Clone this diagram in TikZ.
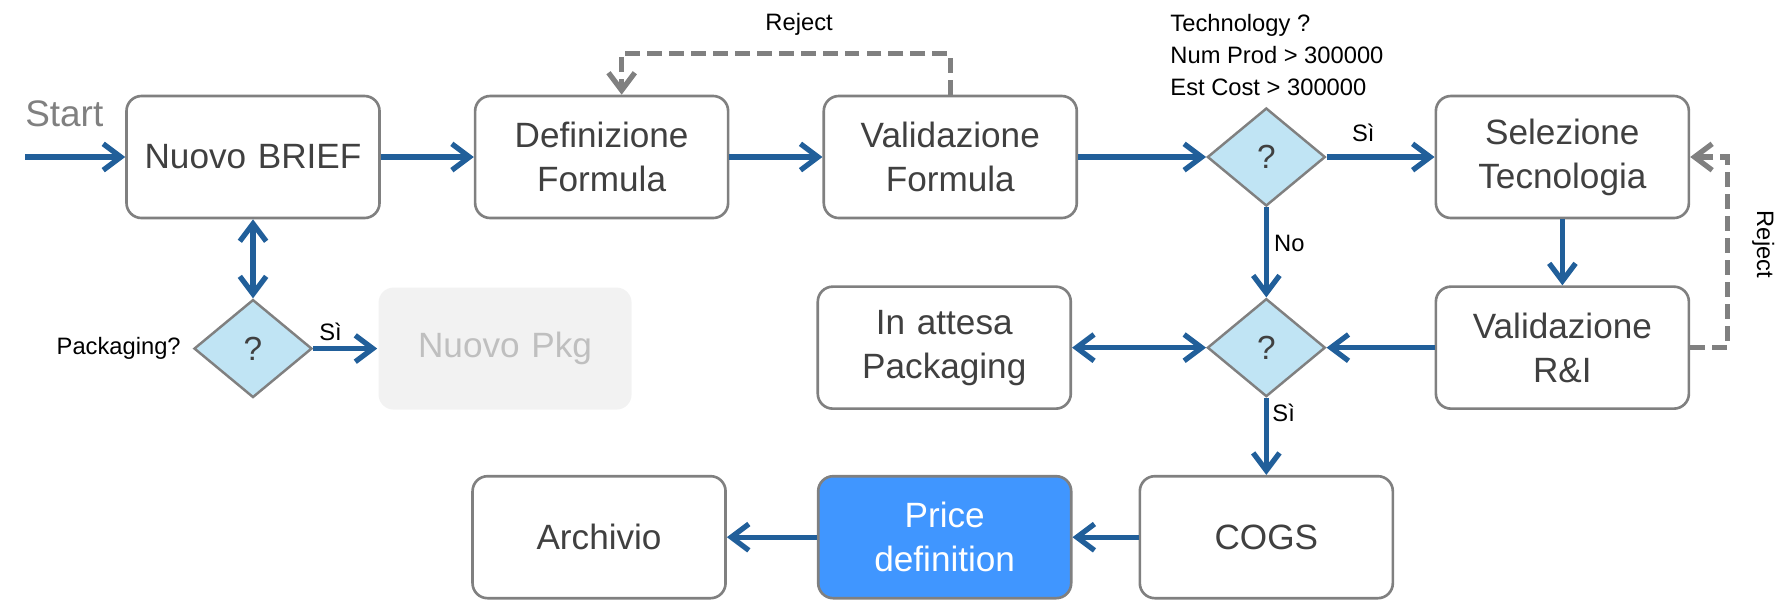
\documentclass[tikz,border=0pt]{standalone}
\usepackage{fontspec}
\setmainfont{Liberation Sans}
\usepackage{tikz}
\usetikzlibrary{shapes.geometric, arrows.meta, positioning}
\definecolor{myblue}{RGB}{33,95,154}
\definecolor{mygray}{RGB}{128,128,128}
\definecolor{mytext}{RGB}{64,64,64}
\definecolor{mylight}{RGB}{192,228,244}
\definecolor{myprice}{RGB}{64,150,255}
\definecolor{pkgfill}{RGB}{242,242,242}
\definecolor{pkgtext}{RGB}{191,191,191}
\tikzset{
  block/.style={rectangle, draw=mygray, fill=white,
    text width=4.6cm, align=center, minimum width=5.06cm, minimum height=2.44cm,
    font=\fontsize{20}{25}\selectfont, text=mytext,
    rounded corners=0.3cm, line width=1.5pt},
  pkgblock/.style={block, draw=none, fill=pkgfill, text=pkgtext},
  priceblock/.style={block, fill=myprice, text=white},
  decision/.style={diamond, draw=mygray, fill=mylight,
    minimum width=2.36cm, minimum height=1.96cm, inner sep=0pt,
    font=\fontsize{19}{23}\selectfont, text=mytext, line width=1.4pt},
  lbl/.style={font=\fontsize{13.5}{18.2}\selectfont, text=black, inner sep=1pt},
  starttxt/.style={font=\fontsize{21}{25}\selectfont, text=mygray, inner sep=0pt},
  arrow/.style={-{Straight Barb[length=10pt,width=15pt]}, line width=3pt, color=myblue},
  darrow/.style={{Straight Barb[length=10pt,width=15pt]}-{Straight Barb[length=10pt,width=15pt]},
    line width=3pt, color=myblue},
  rejarrow/.style={-{Straight Barb[length=10pt,width=15pt]}, line width=3pt, color=mygray,
    dash pattern=on 8.5pt off 4pt}
}
\begin{document}
\begin{tikzpicture}
  \useasboundingbox (0,0) rectangle (35.66,-12.08);
  \node[block] (brief) at (5.06,-3.14) {Nuovo BRIEF};
  \node[block, right=1.86cm of brief] (defform) {Definizione\\Formula};
  \node[block, right=1.86cm of defform] (valform) {Validazione\\Formula};
  \node[decision, right=2.56cm of valform] (tech) {?};
  \node[block, right=2.16cm of tech] (seltech) {Selezione\\Tecnologia};
  \node[block, below=1.32cm of seltech] (valri) {Validazione\\R\&I};
  \node[decision, left=2.16cm of valri] (pkgok) {?};
  \node[block, left=2.68cm of pkgok] (wait) {In attesa\\Packaging};
  \node[block, below=1.54cm of pkgok] (cogs) {COGS};
  \node[priceblock, left=1.32cm of cogs] (price) {Price\\definition};
  \node[block, left=1.8cm of price] (arch) {Archivio};
  \node[decision, below=1.58cm of brief] (pkgq) {?};
  \node[pkgblock, right=1.28cm of pkgq] (newpkg) {Nuovo Pkg};
  \node[starttxt, anchor=west] (start) at (0.5,-2.28) {Start};
  \node[lbl, left=0.2cm of pkgq] (pkglbl) {Packaging?};
  \node[lbl, align=left, anchor=south west] (techlbl) at ([xshift=-1.96cm, yshift=0.17cm]tech.north)
    {Technology ?\\Num Prod > 300000\\Est Cost > 300000};
  \node[lbl, rotate=-90] (rejri) at ([xshift=1.46cm, yshift=0.82cm]valri.north east) {Reject};
  \coordinate (in) at (start.west |- brief.west);
  \draw[arrow] (in) -- (brief);
  \draw[arrow] (brief) -- (defform);
  \draw[arrow] (defform) -- (valform);
  \draw[arrow] (valform) -- (tech);
  \draw[arrow] (tech) -- node[lbl, above=6pt, pos=0.34] {Sì} (seltech);
  \draw[arrow] (tech) -- node[lbl, right=2pt, pos=0.4] {No} (pkgok);
  \draw[arrow] (seltech) -- (valri);
  \draw[arrow] (valri) -- (pkgok);
  \draw[darrow] (pkgok) -- (wait);
  \draw[arrow] (pkgok) -- node[lbl, right=1pt, pos=0.2] {Sì} (cogs);
  \draw[arrow] (cogs) -- (price);
  \draw[arrow] (price) -- (arch);
  \draw[darrow] (brief) -- (pkgq);
  \draw[arrow] (pkgq) -- node[lbl, above=2pt, pos=0.27] {Sì} (newpkg);
  \draw[rejarrow] (valform.north) -- ++(0,0.82) -| node[lbl, above=0.28cm, pos=0.23] {Reject}
    ([xshift=0.4cm]defform.north);
  \draw[rejarrow] (valri.east) -- ++(0.74,0) |- (seltech.east);
\end{tikzpicture}
\end{document}
